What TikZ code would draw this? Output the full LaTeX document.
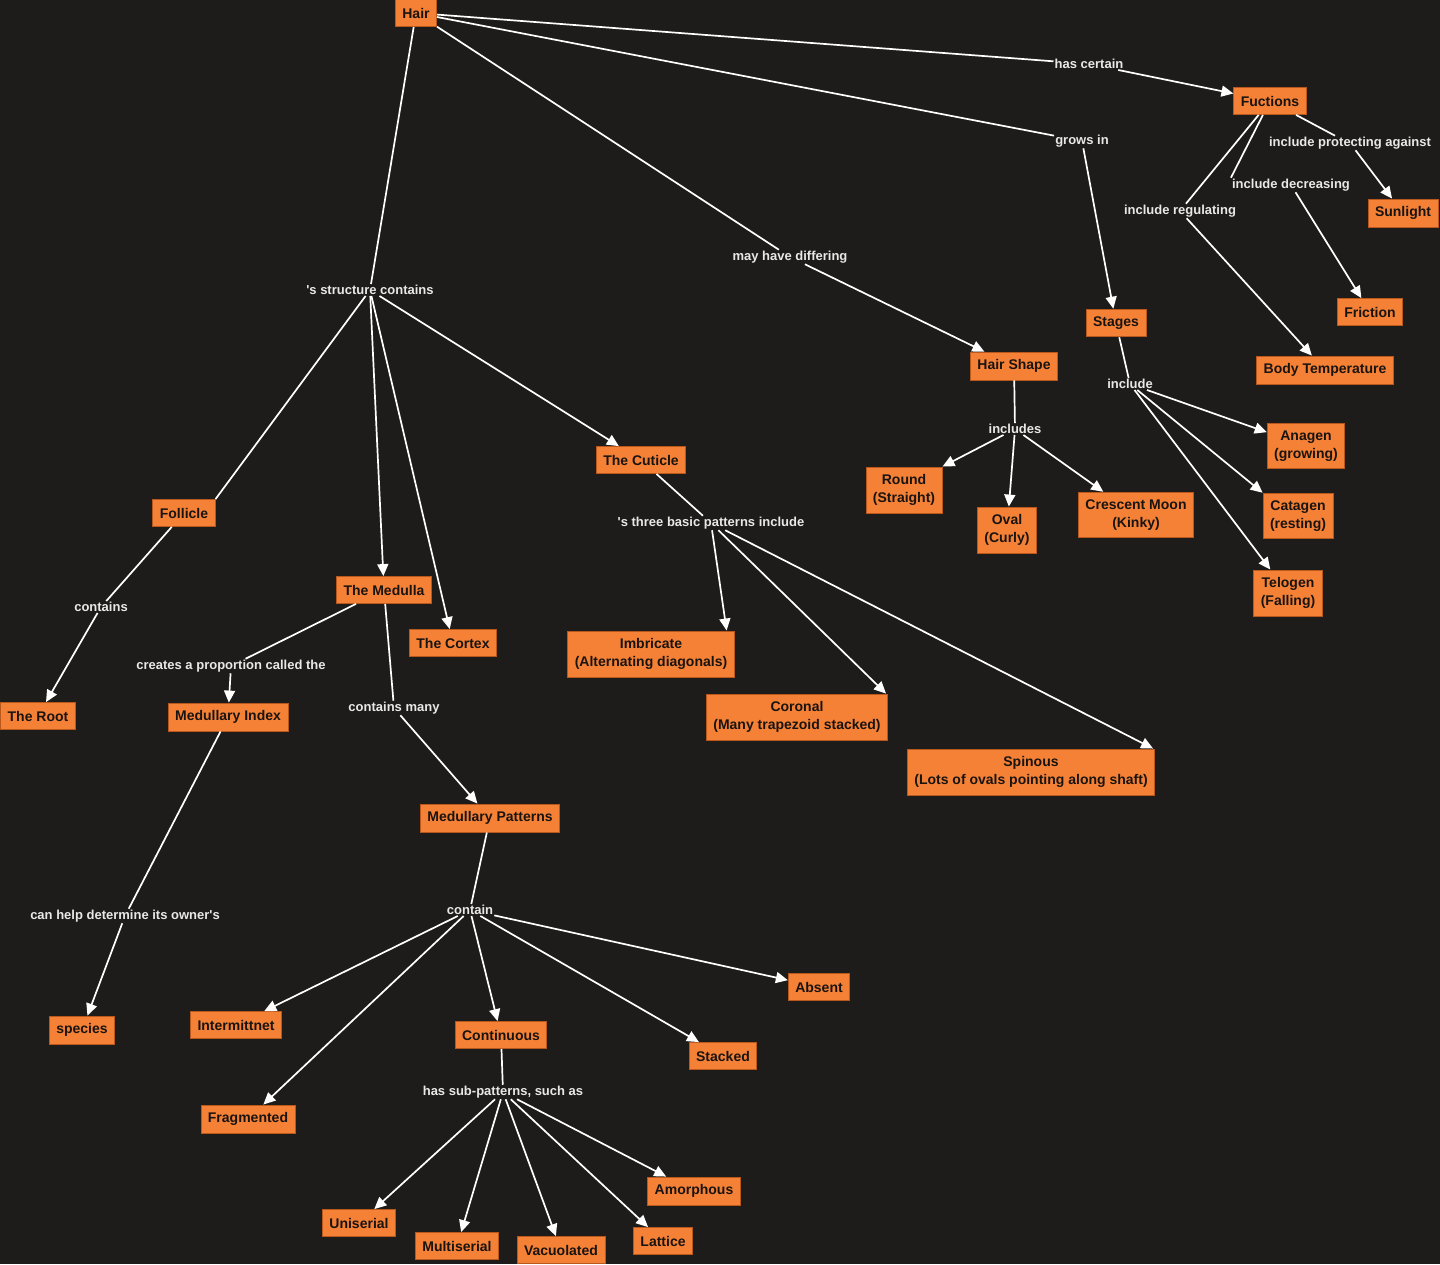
\documentclass[tikz,border=0pt]{standalone}
\usepackage{fontspec}
\setmainfont{Liberation Sans}
\usetikzlibrary{arrows.meta}
\definecolor{cmbg}{HTML}{1E1C1B}
\definecolor{cmfill}{HTML}{F58137}
\definecolor{cmedge}{HTML}{B9581C}
\definecolor{cmink}{HTML}{1A1410}
\definecolor{lnkink}{HTML}{E8E8E8}

\begin{document}
\begin{tikzpicture}[
  concept/.style = {draw=cmedge, fill=cmfill, line width=0.8pt, text=cmink, font=\fontsize{14}{18}\selectfont\bfseries, inner xsep=7pt, inner ysep=7.5pt, minimum height=27pt, align=center},
  linkph/.style  = {text=lnkink, font=\fontsize{13}{15}\selectfont\bfseries, inner sep=1pt},
  cmline/.style  = {draw=white, line width=1.7pt},
  cmarrow/.style = {cmline, -{Triangle[length=12pt,width=11pt]}},
  x=1pt, y=-1pt,
]

  \useasboundingbox (0,0) rectangle (1440,1264);
  \fill[cmbg] (0,0) rectangle (1440,1264);

  % concepts
  \node[concept] (hair) at (416,13) {Hair};
  \node[concept] (fuctions) at (1270,101) {Fuctions};
  \node[concept] (sunlight) at (1403,213) {Sunlight};
  \node[concept] (friction) at (1370,312) {Friction};
  \node[concept] (bodytemp) at (1325,370) {Body Temperature};
  \node[concept] (stages) at (1116,323) {Stages};
  \node[concept] (hairshape) at (1014,366) {Hair Shape};
  \node[concept] (round) at (904,490) {Round\\(Straight)};
  \node[concept] (oval) at (1007,530) {Oval\\(Curly)};
  \node[concept] (crescent) at (1136,515) {Crescent Moon\\(Kinky)};
  \node[concept] (anagen) at (1306,446) {Anagen\\(growing)};
  \node[concept] (catagen) at (1298,516) {Catagen\\(resting)};
  \node[concept] (telogen) at (1288,593) {Telogen\\(Falling)};
  \node[concept] (cuticle) at (641,460) {The Cuticle};
  \node[concept] (follicle) at (184,513) {Follicle};
  \node[concept] (medulla) at (384,590) {The Medulla};
  \node[concept] (cortex) at (453,643) {The Cortex};
  \node[concept] (root) at (38,716) {The Root};
  \node[concept] (medindex) at (228,717) {Medullary Index};
  \node[concept] (imbricate) at (651,654) {Imbricate\\(Alternating diagonals)};
  \node[concept] (coronal) at (797,717) {Coronal\\(Many trapezoid stacked)};
  \node[concept] (spinous) at (1031,772) {Spinous\\(Lots of ovals pointing along shaft)};
  \node[concept] (medpatterns) at (490,818) {Medullary Patterns};
  \node[concept] (species) at (82,1030) {species};
  \node[concept] (intermit) at (236,1025) {Intermittnet};
  \node[concept] (continuous) at (501,1035) {Continuous};
  \node[concept] (stacked) at (723,1056) {Stacked};
  \node[concept] (absent) at (819,987) {Absent};
  \node[concept] (fragmented) at (248,1119) {Fragmented};
  \node[concept] (uniserial) at (359,1223) {Uniserial};
  \node[concept] (multiserial) at (457,1246) {Multiserial};
  \node[concept] (vacuolated) at (561,1250) {Vacuolated};
  \node[concept] (lattice) at (663,1241) {Lattice};
  \node[concept] (amorphous) at (694,1191) {Amorphous};

  % linking phrases
  \node[linkph] (lhascertain) at (1089,64) {has certain};
  \node[linkph] (lgrowsin) at (1082,141) {grows in};
  \node[linkph] (lmayhave) at (790,257) {may have differing};
  \node[linkph] (lstructure) at (370,290) {\textquotesingle s structure contains};
  \node[linkph] (lprotect) at (1350,143) {include protecting against};
  \node[linkph] (ldecrease) at (1291,185) {include decreasing};
  \node[linkph] (lregulate) at (1180,211) {include regulating};
  \node[linkph] (linclude) at (1130,384) {include};
  \node[linkph] (lincludes) at (1015,429) {includes};
  \node[linkph] (lpatterns) at (711,523) {\textquotesingle s three basic patterns include};
  \node[linkph] (lcontains) at (101,607) {contains};
  \node[linkph] (lcreates) at (231,666) {creates a proportion called the};
  \node[linkph] (lcontainsmany) at (394,708) {contains many};
  \node[linkph] (lcanhelp) at (125,916) {can help determine its owner\textquotesingle s};
  \node[linkph] (lcontain) at (470,910) {contain};
  \node[linkph] (lsubpat) at (503,1092) {has sub-patterns, such as};

  % connectors
  \draw[cmline] (hair) -- (lhascertain);
  \draw[cmarrow] (lhascertain) -- (fuctions);
  \draw[cmline] (hair) -- (lgrowsin);
  \draw[cmarrow] (lgrowsin) -- (stages);
  \draw[cmline] (hair) -- (lmayhave);
  \draw[cmarrow] (lmayhave) -- (hairshape);
  \draw[cmline] (hair) -- (lstructure);
  \draw[cmline] (lstructure) -- (follicle.north east);
  \draw[cmarrow] (lstructure) -- (medulla);
  \draw[cmarrow] (lstructure) -- (cortex);
  \draw[cmarrow] (lstructure) -- (cuticle);
  \draw[cmline] (fuctions) -- ([xshift=-15pt]lprotect.north);
  \draw[cmarrow] (lprotect) -- (sunlight);
  \draw[cmline] (fuctions) -- (ldecrease.north west);
  \draw[cmarrow] (ldecrease) -- (friction);
  \draw[cmline] (fuctions) -- (lregulate);
  \draw[cmarrow] (lregulate) -- (bodytemp);
  \draw[cmline] (stages) -- (linclude);
  \draw[cmarrow] (linclude) -- (anagen);
  \draw[cmarrow] (linclude) -- (catagen.north west);
  \draw[cmarrow] (linclude) -- (telogen);
  \draw[cmline] (hairshape) -- (lincludes);
  \draw[cmarrow] (lincludes) -- (round.north east);
  \draw[cmarrow] (lincludes) -- (oval);
  \draw[cmarrow] (lincludes) -- (crescent);
  \draw[cmline] (cuticle) -- (lpatterns);
  \draw[cmarrow] (lpatterns) -- ([xshift=-8pt]imbricate.north east);
  \draw[cmarrow] (lpatterns) -- ([xshift=-2pt]coronal.north east);
  \draw[cmarrow] (lpatterns) -- ([xshift=-2pt]spinous.north east);
  \draw[cmline] (follicle) -- (lcontains);
  \draw[cmarrow] (lcontains) -- (root);
  \draw[cmline] (medulla) -- (lcreates);
  \draw[cmarrow] (lcreates) -- (medindex);
  \draw[cmline] (medulla) -- (lcontainsmany);
  \draw[cmarrow] (lcontainsmany) -- (medpatterns);
  \draw[cmline] (medindex) -- (lcanhelp);
  \draw[cmarrow] (lcanhelp) -- (species);
  \draw[cmline] (medpatterns) -- (lcontain);
  \draw[cmarrow] (lcontain) -- (intermit);
  \draw[cmarrow] (lcontain) -- (fragmented);
  \draw[cmarrow] (lcontain) -- (continuous);
  \draw[cmarrow] (lcontain) -- (stacked);
  \draw[cmarrow] (lcontain) -- (absent);
  \draw[cmline] (continuous) -- (lsubpat);
  \draw[cmarrow] (lsubpat) -- (uniserial);
  \draw[cmarrow] (lsubpat) -- (multiserial);
  \draw[cmarrow] (lsubpat) -- (vacuolated);
  \draw[cmarrow] (lsubpat) -- (lattice);
  \draw[cmarrow] (lsubpat) -- (amorphous);
\end{tikzpicture}
\end{document}
